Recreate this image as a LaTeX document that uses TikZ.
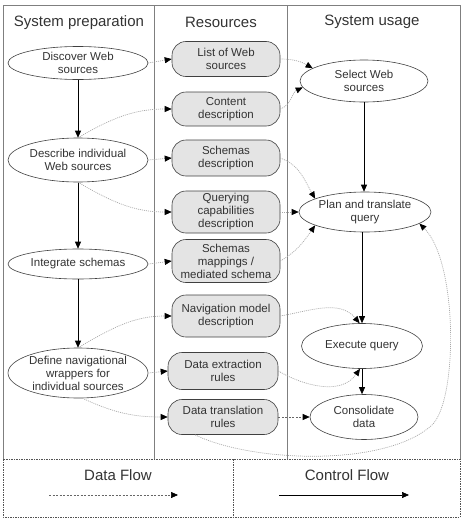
\documentclass[tikz,border=0pt]{standalone}
\usepackage{fontspec}
\setmainfont{Liberation Sans}
\usetikzlibrary{shapes.geometric,arrows.meta}
\definecolor{txt}{HTML}{333333}
\definecolor{edge}{HTML}{404040}
\definecolor{frame}{HTML}{7F7F7F}
\definecolor{resfill}{HTML}{E4E4E4}
\definecolor{dotc}{HTML}{A8A8A8}
\begin{document}
\begin{tikzpicture}[x=1pt,y=1pt,
  every node/.style={text=txt,font=\fontsize{11.5}{13}\selectfont,align=center},
  actell/.style={ellipse,draw=edge,line width=0.6pt,inner sep=0pt},
  resbox/.style={rectangle,rounded corners=14pt,draw=edge,line width=0.6pt,fill=resfill,minimum width=108pt,inner sep=0pt},
  hdr/.style={font=\fontsize{15}{17}\selectfont},
  tipp/.style={-{Triangle[length=7pt,width=6pt,color=black]}},
  ctrl/.style={tipp,draw=black,line width=0.7pt},
  dataf/.style={tipp,draw=dotc,line width=0.7pt,dash pattern=on 1pt off 1pt},
  datad/.style={tipp,draw=edge!80,line width=0.6pt,dash pattern=on 2pt off 1.5pt},
  framel/.style={draw=frame,line width=0.8pt},
  legl/.style={draw=edge!90,line width=0.6pt,dash pattern=on 1.5pt off 1pt}
]
\useasboundingbox (0,0) rectangle (465,-522);
% frame
\draw[framel] (3,-459) -- (3,-5) -- (460,-5) -- (460,-459);
\draw[framel] (154,-5) -- (154,-459);
\draw[framel] (287,-5) -- (287,-459);
\draw[legl] (3,-459) rectangle (460,-517);
\draw[legl] (233,-459) -- (233,-517);
% headers
\node[hdr] (h1) at (79,-23) {System preparation};
\node[hdr] (h2) at (221,-22) {Resources};
\node[hdr] (h3) at (372,-22) {System usage};
% left column
\node[actell,minimum width=140pt,minimum height=33pt] (disc) at (78,-63) {Discover Web\\sources};
\node[actell,minimum width=140pt,minimum height=44pt] (desc) at (78,-160) {Describe individual\\Web sources};
\node[actell,minimum width=140pt,minimum height=30pt] (integ) at (78,-264) {Integrate schemas};
\node[actell,minimum width=140pt,minimum height=50pt] (defn) at (78,-373) {Define navigational\\wrappers for\\individual sources};
% resources
\node[resbox,minimum height=35pt] (list) at (226,-59) {List of Web\\sources};
\node[resbox,minimum height=34pt] (content) at (226,-109) {Content\\description};
\node[resbox,minimum height=36pt] (schdesc) at (226,-158) {Schemas\\description};
\node[resbox,minimum height=42pt] (query) at (226,-212) {Querying\\capabilities\\description};
\node[resbox,minimum height=43pt] (schmap) at (226,-261) {Schemas\\mappings /\\mediated schema};
\node[resbox,minimum height=42pt] (nav) at (226,-316) {Navigation model\\description};
\node[resbox,minimum height=37pt,minimum width=110pt] (extr) at (223,-371) {Data extraction\\rules};
\node[resbox,minimum height=35pt,minimum width=110pt] (transl) at (223,-417) {Data translation\\rules};
% right column
\node[actell,minimum width=128pt,minimum height=42pt] (sel) at (364,-81) {Select Web\\sources};
\node[actell,minimum width=132pt,minimum height=40pt] (plan) at (365,-212) {Plan and translate\\query};
\node[actell,minimum width=121pt,minimum height=45pt] (exec) at (362,-346) {Execute query};
\node[actell,minimum width=108pt,minimum height=45pt] (cons) at (364,-417) {Consolidate\\data};
% control flow
\draw[ctrl] (disc) -- (desc);
\draw[ctrl] (desc) -- (integ);
\draw[ctrl] (integ) -- (defn);
\draw[ctrl] (sel.south) -- (sel.south |- plan.north);
\draw[ctrl] (plan.south -| exec.north) -- (exec.north);
\draw[ctrl] (exec.south) -- (exec.south |- cons.north);
% data flow left -> resources
\draw[dataf] (disc.east) -- (list.west);
\draw[dataf] (desc.north) to[out=30,in=180] (content.west);
\draw[dataf] (desc.east) -- (schdesc.west);
\draw[dataf] (desc.south) to[out=-30,in=180] (query.west);
\draw[dataf] (integ.east) -- (schmap.west);
\draw[dataf] (defn.north) to[out=30,in=180] (nav.west);
\draw[dataf] (defn.east) -- (extr.west);
\draw[dataf] (defn.-80) to[out=-25,in=180] (transl.west);
% data flow resources -> usage
\draw[dataf] (list.east) to[out=0,in=150] (sel.166);
\draw[dataf] (content.east) to[out=20,in=205] (sel.186);
\draw[dataf] (schdesc.east) to[out=-20,in=120] (plan.165);
\draw[dataf] (query.east) -- (plan.west);
\draw[dataf] (schmap.east) to[out=30,in=-125] (plan.195);
\draw[dataf] (nav.east) to[out=10,in=130] (exec.96);
\draw[dataf] (extr.east) to[out=-30,in=-125] (exec.265);
\draw[datad] (transl.east) -- (cons.west);
\draw[dataf] ([xshift=-28pt]transl.south) .. controls (250,-462) and (385,-468) .. (432,-425)
  .. controls (458,-400) and (458,-262) .. (plan.-12);
% legend
\node[hdr] (ldata) at (118,-475) {Data Flow};
\node[hdr] (lctrl) at (347,-475) {Control Flow};
\coordinate (d1) at (49,-495);
\coordinate (d2) at (178,-495);
\coordinate (c1) at (279,-495);
\coordinate (c2) at (409,-495);
\draw[datad] (d1) -- (d2);
\draw[ctrl] (c1) -- (c2);
\end{tikzpicture}
\end{document}
